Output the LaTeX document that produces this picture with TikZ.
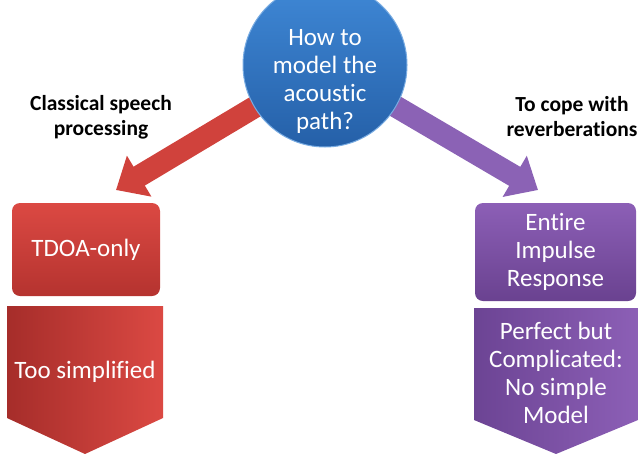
\documentclass[tikz,border=0pt]{standalone}
\usepackage{fontspec}
\setmainfont{Carlito}[Ligatures=NoCommon]
\usetikzlibrary{arrows.meta,backgrounds}
\definecolor{redtop}{HTML}{DB4943}
\definecolor{redbot}{HTML}{B5332F}
\definecolor{reddark}{HTML}{A62D2A}
\definecolor{redarr}{HTML}{D0423C}
\definecolor{purtop}{HTML}{8C5FB6}
\definecolor{purbot}{HTML}{6A4290}
\definecolor{purdark}{HTML}{6C4494}
\definecolor{purarr}{HTML}{8B62B5}
\definecolor{bluetop}{HTML}{3F88D6}
\definecolor{bluebot}{HTML}{2560A8}
\begin{document}
\begin{tikzpicture}
[x=1pt,y=-1pt,
 every node/.style={text=white,align=center,font=\fontsize{25}{28}\selectfont},
 pbox/.style={rounded corners=8pt,minimum width=148pt,minimum height=93pt},
 side/.style={text=black,font=\bfseries\fontsize{21.5}{25}\selectfont},
 bigarrow/.style={line width=22pt,-{Triangle[length=27pt 0 0,width=46pt 0 0]}}]
\useasboundingbox (0,0) rectangle (639,453);
\clip (0,0) rectangle (639,453);

\node[circle,minimum size=164pt,top color=bluetop,bottom color=bluebot,draw=bluetop!70!white,line width=1pt] (q) at (325,65) {};
\node (qtext) at (325,81) {How to\\model the\\acoustic\\path?};

\node[side] (cls) at (101,117) {Classical speech\\processing};
\node[side] (rev) at (572,117) {To cope with\\reverberations};

\node[pbox,top color=redtop,bottom color=redbot] (tdoa) at (86,249.5) {TDOA-only};
\node[pbox,minimum width=161pt,minimum height=98pt,top color=purtop,bottom color=purbot] (eir) at (555.5,252) {Entire\\Impulse\\Response};

\shade[left color=reddark,right color=redtop] (7,306) -- (163,306) -- (163,418) -- (85,454) -- (7,418) -- cycle;
\shade[left color=purdark,right color=purtop] (474,308) -- (638,308) -- (638,420) -- (556,454) -- (474,420) -- cycle;
\node (simp) at (85,372) {Too simplified};
\node (perf) at (556,373) {Perfect but\\Complicated:\\No simple\\Model};

\coordinate (lt) at (116,190);
\coordinate (rt) at (538,190);
\begin{pgfonlayer}{background}
\foreach \to/\col in {lt/redarr,rt/purarr}
\draw[bigarrow,draw=\col,fill=\col] (q.center) -- (\to);
\end{pgfonlayer}

\end{tikzpicture}
\end{document}
